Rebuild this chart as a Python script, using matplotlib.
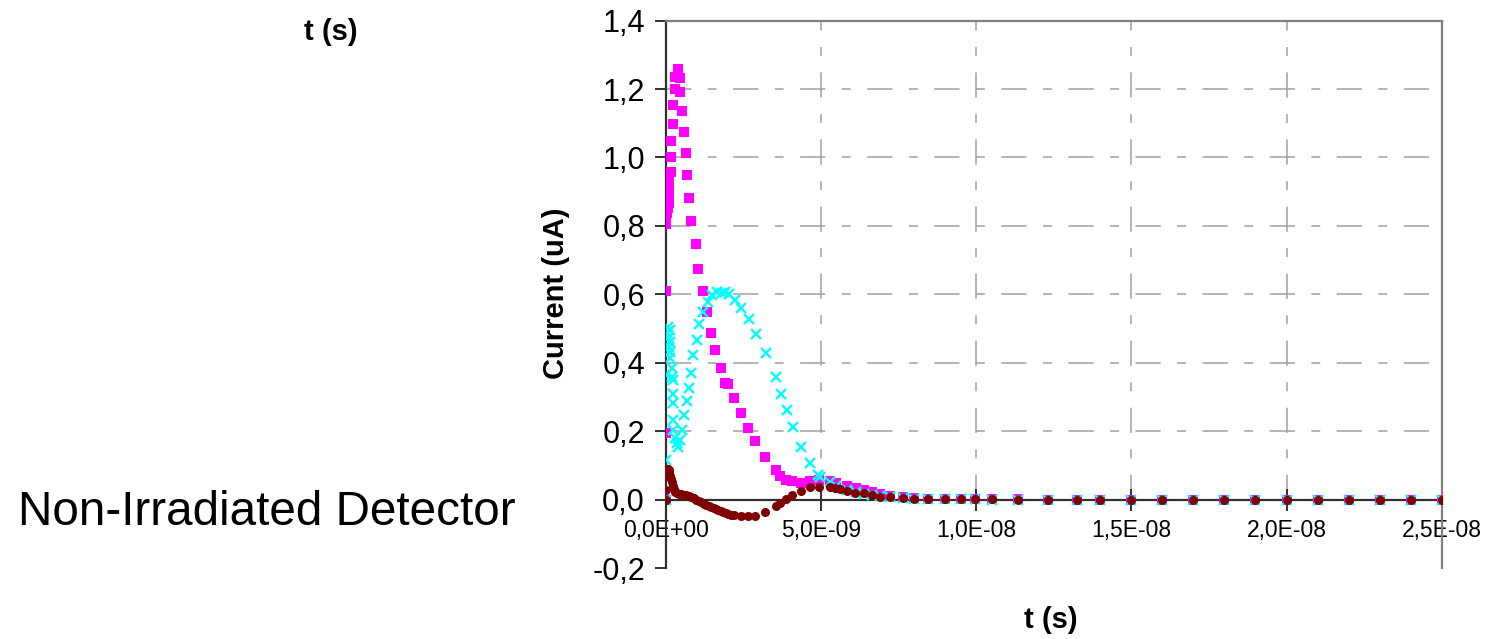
import matplotlib
matplotlib.use("Agg")
import matplotlib.pyplot as plt
from matplotlib.ticker import FuncFormatter, MultipleLocator

plt.rcParams['font.family'] = ['Liberation Sans', 'DejaVu Sans']

# ---- data (time in ns, current in uA) ----
tail_t = [6.63, 6.9, 7.22, 7.63, 8.0, 8.45, 9.0, 9.5, 9.95, 10.5, 11.35, 12.3, 13.25,
          14.0, 15.0, 16.0, 17.0, 18.0, 19.0, 20.0, 21.0, 22.0, 23.0, 24.0, 25.0]

pink_t = [0, 0, 0, 0.01, 0.01, 0.03, 0.06, 0.10, 0.11, 0.11, 0.12, 0.16, 0.17, 0.17,
          0.25, 0.25, 0.30, 0.30, 0.38, 0.46, 0.46, 0.51, 0.59, 0.65, 0.70, 0.76, 0.83,
          0.98, 1.05, 1.19, 1.32, 1.45, 1.59, 1.78, 1.91, 1.99, 2.20, 2.42, 2.66, 2.89,
          3.21, 3.54, 3.68, 3.89, 4.08, 4.36, 4.64, 4.95, 5.28, 5.50, 5.83, 6.12, 6.40] + tail_t
pink_i = [0.0, 0.194, 0.61, 0.805, 0.817, 0.837, 0.851, 0.866, 0.879, 0.905, 0.931, 0.958,
          1.002, 1.048, 1.097, 1.153, 1.20, 1.236, 1.259, 1.232, 1.192, 1.136, 1.075, 1.014,
          0.949, 0.881, 0.814, 0.747, 0.674, 0.61, 0.547, 0.486, 0.437, 0.386, 0.342, 0.337,
          0.298, 0.253, 0.208, 0.170, 0.125, 0.086, 0.069, 0.058, 0.053, 0.047, 0.054, 0.058,
          0.055, 0.049, 0.040, 0.033, 0.028,
          0.022, 0.016, 0.011, 0.007, 0.004, 0.003, 0.002, 0.002, 0.001, 0.001, 0.001, 0.0,
          0.0, 0.0, 0.0, 0.0, 0.0, 0.0, 0.0, 0.0, 0.0, 0.0, 0.0, 0.0, 0.0]

cyan_t = [0, 0, 0, 0.03, 0.06, 0.08, 0.11, 0.14, 0.14, 0.14, 0.14, 0.19, 0.19, 0.22, 0.25,
          0.25, 0.25, 0.25, 0.30, 0.35, 0.41, 0.46, 0.53, 0.60, 0.70, 0.75, 0.80, 0.87, 1.00,
          1.08, 1.21, 1.35, 1.48, 1.64, 1.80, 1.91, 2.04, 2.23, 2.42, 2.68, 2.91, 3.23, 3.55,
          3.70, 3.90, 4.10, 4.37, 4.64, 4.92, 4.97, 5.28, 5.50, 5.83, 6.12, 6.40] + tail_t
cyan_i = [0.0, 0.115, 0.364, 0.486, 0.505, 0.471, 0.447, 0.496, 0.461, 0.432, 0.413, 0.384,
          0.359, 0.310, 0.349, 0.281, 0.232, 0.203, 0.179, 0.164, 0.154, 0.174, 0.203, 0.247,
          0.289, 0.327, 0.371, 0.423, 0.466, 0.512, 0.549, 0.578, 0.598, 0.608, 0.603, 0.608,
          0.601, 0.584, 0.561, 0.527, 0.484, 0.427, 0.357, 0.310, 0.262, 0.212, 0.155, 0.107,
          0.072, 0.067, 0.050, 0.040, 0.027, 0.021, 0.016,
          0.012, 0.009, 0.007, 0.005, 0.003, 0.002, 0.001, 0.001, 0.001, 0.0, 0.0, 0.0, 0.0,
          0.0, 0.0, 0.0, 0.0, 0.0, 0.0, 0.0, 0.0, 0.0, 0.0, 0.0, 0.0]

red_t = [0, 0, 0.01, 0.02, 0.03, 0.05, 0.07, 0.09, 0.11, 0.13, 0.16, 0.19, 0.22, 0.26, 0.30,
         0.35, 0.42, 0.50, 0.58, 0.66, 0.74, 0.82, 0.90, 0.98, 1.06, 1.14, 1.22, 1.30, 1.38,
         1.46, 1.54, 1.62, 1.70, 1.78, 1.86, 1.94, 2.02, 2.10, 2.20, 2.42, 2.66, 2.89, 3.21,
         3.54, 3.68, 3.89, 4.08, 4.36, 4.64, 4.95, 5.28, 5.45, 5.62, 5.83, 6.10, 6.38] + tail_t
red_i = [0.0, 0.028, 0.070, 0.080, 0.088, 0.090, 0.088, 0.085, 0.078, 0.070, 0.060, 0.050,
         0.040, 0.030, 0.022, 0.018, 0.016, 0.015, 0.014, 0.012, 0.010, 0.007, 0.004, 0.0,
         -0.004, -0.008, -0.012, -0.016, -0.019, -0.022, -0.025, -0.028, -0.031, -0.034,
         -0.037, -0.040, -0.042, -0.044, -0.046, -0.048, -0.048, -0.048, -0.037, -0.019,
         -0.009, 0.003, 0.014, 0.025, 0.036, 0.037, 0.036, 0.033, 0.030, 0.026, 0.020, 0.018,
         0.013, 0.008, 0.008, 0.006, 0.002, 0.002, 0.001, 0.001, 0.001, 0.001, 0.0, 0.0, 0.0,
         0.0, 0.0, 0.0, 0.0, 0.0, 0.0, 0.0, 0.0, 0.0, 0.0, 0.0, 0.0]

x_ticks = [0, 5e-9, 1e-8, 1.5e-8, 2e-8, 2.5e-8]

# ---- figure ----
fig = plt.figure(figsize=(14.88, 6.39), dpi=100)
ax = fig.add_axes([0.4474, 0.1111, 0.5215, 0.8567])
ax.set_xlim(0, 2.5e-8)
ax.set_ylim(-0.2, 1.4)

grid_dash = (0, (16.5, 10.8, 5.8, 10.8))
for y in [0.2, 0.4, 0.6, 0.8, 1.0, 1.2]:
    ax.axhline(y, color='#a0a0a0', lw=1.1, linestyle=grid_dash, zorder=0)
for x in x_ticks[1:-1]:
    ax.axvline(x, ymin=0.125, ymax=1, color='#a0a0a0', lw=1.1, linestyle=grid_dash, zorder=0)

ns = 1e-9
ax.plot([t * ns for t in pink_t], pink_i, linestyle='none', marker='s', markersize=6.5,
        color='#ff00ff', markeredgewidth=0, zorder=3)
ax.plot([t * ns for t in cyan_t], cyan_i, linestyle='none', marker='x', markersize=7,
        color='#00ffff', markeredgewidth=1.7, zorder=4)
ax.plot([t * ns for t in red_t], red_i, linestyle='none', marker='o', markersize=6.5,
        color='#800000', markeredgewidth=0, zorder=5)

# spines
ax.spines['left'].set_color('#303030')
ax.spines['left'].set_linewidth(1.6)
ax.spines['bottom'].set_position(('data', 0))
ax.spines['bottom'].set_color('#303030')
ax.spines['bottom'].set_linewidth(1.6)
ax.spines['top'].set_color('#808080')
ax.spines['top'].set_linewidth(1.6)
ax.spines['right'].set_color('#808080')
ax.spines['right'].set_linewidth(1.6)

ax.set_xticks(x_ticks)
ax.yaxis.set_major_locator(MultipleLocator(0.2))
ax.xaxis.set_major_formatter(FuncFormatter(lambda v, p: f"{v:.1E}".replace('.', ',')))
ax.yaxis.set_major_formatter(FuncFormatter(lambda v, p: f"{v:.1f}".replace('.', ',').replace('-0,0', '0,0')))
ax.tick_params(axis='x', direction='inout', length=16, width=1.4, color='#303030',
               labelsize=16.5, pad=6)
ax.tick_params(axis='y', direction='out', length=8, width=1.4, color='#303030',
               labelsize=22, pad=7)

fig.text(0.3737, 0.5415, 'Current (uA)', rotation=90, ha='center', va='center',
         fontsize=21, fontweight='bold')
fig.text(0.7063, 0.0297, 't (s)', ha='center', va='center', fontsize=21, fontweight='bold')
fig.text(0.2225, 0.950, 't (s)', ha='center', va='center', fontsize=21, fontweight='bold')
fig.text(0.0121, 0.1987, 'Non-Irradiated Detector', ha='left', va='center', fontsize=34.3)

fig.savefig('out.png', dpi=100)
